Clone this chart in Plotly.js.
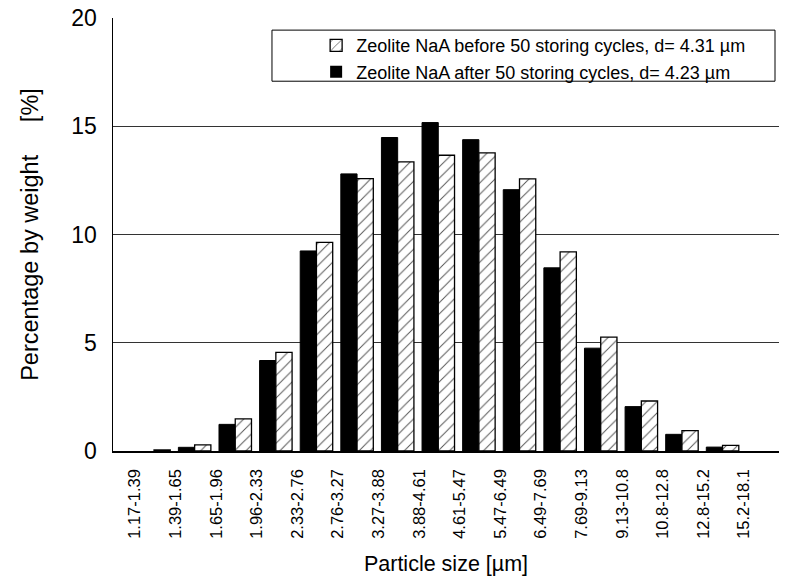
<!DOCTYPE html>
<html>
<head>
<meta charset="utf-8">
<script src="https://cdn.plot.ly/plotly-3.0.1.min.js"></script>
<style>html,body{margin:0;padding:0;background:#fff;}#chart{width:794px;height:578px;}</style>
</head>
<body>
<div id="chart"></div>
<script>
const categories = ["1.17-1.39","1.39-1.65","1.65-1.96","1.96-2.33","2.33-2.76","2.76-3.27","3.27-3.88","3.88-4.61","4.61-5.47","5.47-6.49","6.49-7.69","7.69-9.13","9.13-10.8","10.8-12.8","12.8-15.2","15.2-18.1"];
const afterCycles = [0, 0.17, 1.23, 4.18, 9.24, 12.8, 14.48, 15.17, 14.38, 12.07, 8.46, 4.75, 2.05, 0.77, 0.18, 0];
const beforeCycles = [0.05, 0.28, 1.48, 4.56, 9.64, 12.58, 13.35, 13.66, 13.77, 12.57, 9.2, 5.26, 2.31, 0.94, 0.26, 0];
const yTicks = [0, 5, 10, 15, 20];
const seriesNames = ["Zeolite NaA after 50 storing cycles, d= 4.23 µm", "Zeolite NaA before 50 storing cycles, d= 4.31 µm"];

const idx = categories.map((c, i) => i);
const labelPos = idx.map(i => i - 0.47);
const FONT = "Arial, 'Liberation Sans', Helvetica, sans-serif";
const outline = (vals, w) => vals.map(v => (v > 0 ? w : 0));

const traces = [
  {
    type: "bar", x: idx, y: afterCycles, name: seriesNames[0],
    marker: {color: "#000000", line: {color: "#000000", width: outline(afterCycles, 1)}}
  },
  {
    type: "bar", x: idx, y: beforeCycles, name: seriesNames[1],
    marker: {color: "#ffffff", line: {color: "#000000", width: outline(beforeCycles, 1.3)},
      pattern: {shape: "/", fgcolor: "#555555", bgcolor: "#ffffff", size: 8, solidity: 0.12}}
  }
];

const layout = {
  width: 794, height: 578,
  margin: {l: 113, r: 15, t: 18, b: 127},
  paper_bgcolor: "#ffffff", plot_bgcolor: "#ffffff",
  font: {family: FONT, color: "#000000"},
  barmode: "group", bargap: 0.2, bargroupgap: 0,
  showlegend: true,
  legend: {
    x: 0.305, y: 0.979, xanchor: "left", yanchor: "top",
    traceorder: "reversed", bgcolor: "rgba(0,0,0,0)", borderwidth: 0,
    font: {family: FONT, size: 18, color: "#000000"},
    tracegroupgap: 0, itemwidth: 30
  },
  shapes: [{
    type: "rect", xref: "paper", yref: "paper",
    x0: 0.2387, x1: 0.994, y0: 0.854, y1: 0.972,
    line: {color: "#000000", width: 1}, fillcolor: "#ffffff", layer: "above"
  }],
  xaxis: {
    range: [-1.01, 15.39],
    tickmode: "array", tickvals: labelPos, ticktext: categories,
    tickangle: -90, ticks: "", ticklabelstandoff: 10,
    tickfont: {family: FONT, size: 16.5, color: "#000000"},
    showgrid: false, zeroline: false,
    showline: true, linecolor: "#000000", linewidth: 1.5,
    title: {text: "Particle size [µm]", font: {family: FONT, size: 21.5, color: "#000000"}, standoff: 18}
  },
  yaxis: {
    range: [0, 20],
    tickmode: "array", tickvals: yTicks, ticktext: yTicks.map(String),
    ticks: "", ticklabelstandoff: 10,
    tickfont: {family: FONT, size: 23, color: "#000000"},
    showgrid: true, gridcolor: "#333333", gridwidth: 1,
    zeroline: false,
    showline: true, linecolor: "#000000", linewidth: 1.5,
    title: {text: "Percentage by weight &nbsp;&nbsp;&nbsp;&nbsp;[%]", font: {family: FONT, size: 23.5, color: "#000000"}, standoff: 26}
  }
};

Plotly.newPlot("chart", traces, layout, {displayModeBar: false, staticPlot: true});
</script>
</body>
</html>
